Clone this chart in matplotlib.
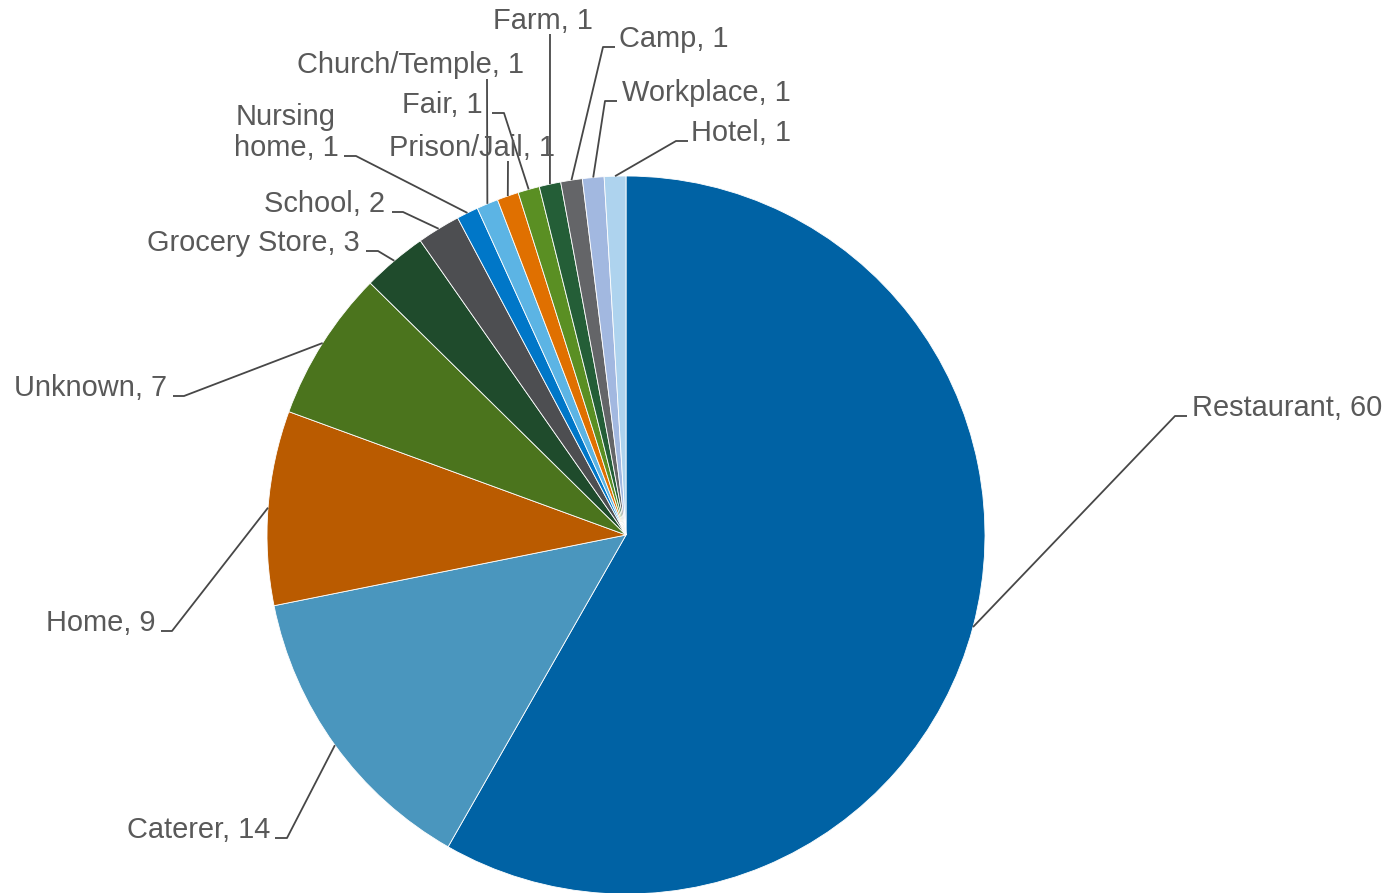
import numpy as np
import matplotlib
matplotlib.use("Agg")
import matplotlib.pyplot as plt

# ---- data ----
categories = ["Restaurant", "Caterer", "Home", "Unknown", "Grocery Store", "School",
              "Nursing\nhome", "Church/Temple", "Prison/Jail", "Fair", "Farm", "Camp",
              "Workplace", "Hotel"]
values = [60, 14, 9, 7, 3, 2, 1, 1, 1, 1, 1, 1, 1, 1]
colors = ["#0062A4", "#4A96BE", "#BA5B00", "#4B741D", "#1F4B2C", "#4D4E51",
          "#0077C8", "#5CB4E4", "#E07000", "#5A8F23", "#245E37", "#646568",
          "#A2B8E0", "#AED3EE"]

# ---- layout (pixel coords of the 1396x893 canvas) ----
W, H = 1396, 893
CX, CY, R = 626, 535, 359
# label anchor x, baseline y, horizontal alignment
label_pos = [
    (1192, 416, "left"),
    (270, 838, "right"),
    (156, 631, "right"),
    (167, 396, "right"),
    (360, 251, "right"),
    (385, 212, "right"),
    (286, 156, "center"),
    (297, 73, "left"),
    (389, 156, "left"),
    (483, 113, "right"),
    (493, 29, "left"),
    (619, 47, "left"),
    (622, 101, "left"),
    (691, 141, "left"),
]
# leader line path points (after the pie edge point), pixel coords
leader_path = [
    [(1175, 416), (1187, 416)],
    [(287, 838), (275, 838)],
    [(172, 631), (161, 631)],
    [(184, 396), (173, 396)],
    [(378, 251), (366, 251)],
    [(403, 212), (392, 212)],
    [(356, 156), (344, 156)],
    [(487, 79)],
    [(508, 161)],
    [(504, 113), (492, 113)],
    [(550, 34)],
    [(603, 47), (615, 47)],
    [(605, 101), (617, 101)],
    [(676, 141), (688, 141)],
]

plt.rcParams['font.family'] = ['Liberation Sans', 'DejaVu Sans']
fig = plt.figure(figsize=(W / 100, H / 100), dpi=100)
ax = fig.add_axes([0, 0, 1, 1])

wedges, _ = ax.pie(values, colors=colors, startangle=90, counterclock=False,
                   center=(CX, H - CY), radius=R,
                   wedgeprops=dict(edgecolor="white", linewidth=0.6))
ax.set_xlim(0, W)
ax.set_ylim(0, H)
ax.set_aspect('equal')
ax.axis('off')

text_color = "#595959"
line_color = "#474747"
for w, name, v, (lx, ly, ha), path in zip(wedges, categories, values,
                                           label_pos, leader_path):
    ang = np.deg2rad((w.theta1 + w.theta2) / 2)
    ex = CX + R * np.cos(ang)
    ey = (H - CY) + R * np.sin(ang)
    xs = [ex] + [p[0] for p in path]
    ys = [ey] + [H - p[1] for p in path]
    ax.plot(xs, ys, color=line_color, lw=1.3, solid_capstyle='butt')
    ax.text(lx, H - ly, f"{name}, {v}", ha=ha, va="baseline", fontsize=20.9,
            color=text_color, linespacing=1.12, multialignment="center")

fig.savefig("out.png", dpi=100)
